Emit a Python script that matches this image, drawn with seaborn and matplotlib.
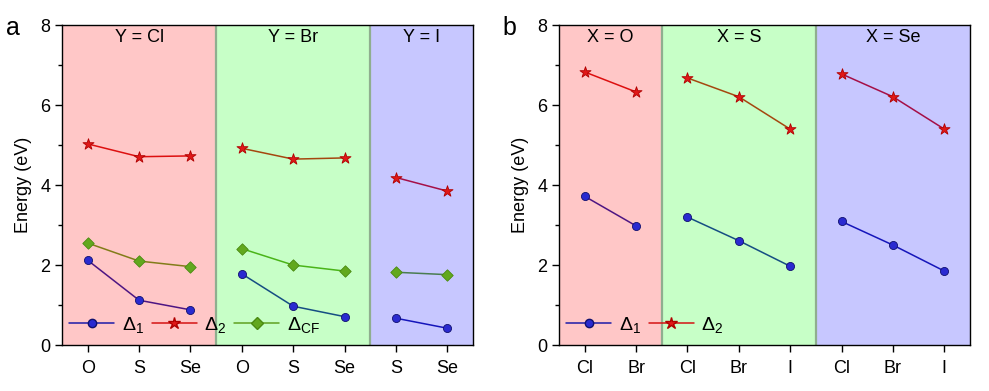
import pandas as pd
import matplotlib.pyplot as plt
import seaborn as sns
from matplotlib.lines import Line2D

# panel a: grouped by halogen Y, x axis is chalcogen X
a_groups = ['Y = Cl', 'Y = Br', 'Y = I']
a_labels = ['O', 'S', 'Se', 'O', 'S', 'Se', 'S', 'Se']
a_group_of = [0, 0, 0, 1, 1, 1, 2, 2]
a_d1 = [2.12, 1.12, 0.88, 1.78, 0.97, 0.71, 0.67, 0.42]
a_d2 = [5.03, 4.71, 4.73, 4.92, 4.65, 4.68, 4.19, 3.85]
a_dcf = [2.55, 2.10, 1.96, 2.41, 2.00, 1.85, 1.82, 1.76]

# panel b: grouped by chalcogen X, x axis is halogen Y
b_groups = ['X = O', 'X = S', 'X = Se']
b_labels = ['Cl', 'Br', 'Cl', 'Br', 'I', 'Cl', 'Br', 'I']
b_group_of = [0, 0, 1, 1, 1, 2, 2, 2]
b_d1 = [3.72, 2.98, 3.20, 2.61, 1.97, 3.09, 2.50, 1.85]
b_d2 = [6.83, 6.33, 6.68, 6.21, 5.40, 6.78, 6.21, 5.40]

series_names = ['$\\Delta_1$', '$\\Delta_2$', '$\\Delta_{CF}$']
line_colors = {'d1': '#1c1ca8', 'd2': '#d41414', 'dcf': '#5fa020'}
marker_style = {'d1': ('o', '#2a2ad0', '#10106e'),
                'd2': ('*', '#e01818', '#b00000'),
                'dcf': ('D', '#62a81e', '#4a8a10')}
span_colors = ['#ff0000', '#00ff00', '#0000ff']

sns.set_style('ticks')
plt.rcParams['font.family'] = ['Liberation Sans', 'DejaVu Sans']
plt.rcParams['mathtext.fontset'] = 'custom'
plt.rcParams['mathtext.rm'] = 'Liberation Sans'
plt.rcParams['mathtext.it'] = 'Liberation Sans'
plt.rcParams['text.color'] = 'black'
plt.rcParams['axes.labelcolor'] = 'black'
plt.rcParams['xtick.color'] = 'black'
plt.rcParams['ytick.color'] = 'black'


def make_df(group_of, series):
    rows = []
    for key, vals in series.items():
        for i, v in enumerate(vals):
            rows.append({'pos': i, 'energy': v, 'series': key, 'grp': group_of[i]})
    return pd.DataFrame(rows)


def draw_panel(ax, labels, group_of, groups, series, letter):
    df = make_df(group_of, series)
    # lines under the coloured bands, markers on top (like the original)
    for key in series:
        sub = df[df['series'] == key]
        sns.lineplot(data=sub, x='pos', y='energy', units='grp', estimator=None,
                     color=line_colors[key], lw=1.1, ax=ax, zorder=1, legend=False)
        m, fc, ec = marker_style[key]
        sns.scatterplot(data=sub, x='pos', y='energy', marker=m, color=fc,
                        edgecolor=ec, linewidth=0.6,
                        s=70 if m == '*' else 34, ax=ax, zorder=4, legend=False)

    # coloured bands per group
    bounds = []
    for g in range(len(groups)):
        idx = [i for i, gg in enumerate(group_of) if gg == g]
        lo, hi = idx[0] - 0.5, idx[-1] + 0.5
        bounds.append((lo, hi))
        ax.axvspan(lo, hi, color=span_colors[g], alpha=0.22, lw=0, zorder=2)
        ax.text((lo + hi) / 2, 7.68, groups[g], ha='center', va='center',
                fontsize=13, zorder=5)
    for lo, hi in bounds[1:]:
        ax.axvline(lo, color='#8fae8f', lw=1.6, zorder=3)

    ax.set_xlim(-0.5, len(labels) - 0.5)
    ax.set_ylim(0, 8)
    ax.set_xticks(range(len(labels)))
    ax.set_xticklabels(labels, fontsize=13)
    ax.set_yticks([0, 2, 4, 6, 8])
    ax.set_yticks([1, 3, 5, 7], minor=True)
    ax.tick_params(axis='y', labelsize=13, length=5, width=1, direction='out')
    ax.tick_params(axis='y', which='minor', length=3, width=1)
    ax.tick_params(axis='x', length=5, width=1, direction='out', pad=6)
    ax.set_xlabel('')
    ax.set_ylabel('Energy (eV)', fontsize=13, labelpad=6)
    for sp in ax.spines.values():
        sp.set_visible(True)
        sp.set_color('black')
        sp.set_linewidth(1.0)
        sp.set_zorder(6)

    handles = []
    for key in series:
        m, fc, ec = marker_style[key]
        handles.append(Line2D([0], [0], color=line_colors[key], lw=1.1, marker=m,
                              markerfacecolor=fc, markeredgecolor=ec,
                              markersize=9 if m == '*' else 6))
    names = series_names[:len(series)]
    leg = ax.legend(handles, names, loc='lower left', bbox_to_anchor=(-0.015, -0.01),
                    ncol=3, frameon=False, fontsize=14, handlelength=2.3,
                    handletextpad=0.4, columnspacing=0.4, borderaxespad=0.3)
    leg.set_zorder(7)

    ax.text(-0.12, 1.03, letter, transform=ax.transAxes, fontsize=18,
            ha='center', va='top')


fig = plt.figure(figsize=(9.89, 3.91), dpi=100)
ax_a = fig.add_axes([0.0627, 0.1176, 0.4156, 0.818])
ax_b = fig.add_axes([0.5652, 0.1176, 0.4156, 0.818])

draw_panel(ax_a, a_labels, a_group_of, a_groups,
           {'d1': a_d1, 'd2': a_d2, 'dcf': a_dcf}, 'a')
draw_panel(ax_b, b_labels, b_group_of, b_groups,
           {'d1': b_d1, 'd2': b_d2}, 'b')

fig.savefig('out.png', dpi=100)
